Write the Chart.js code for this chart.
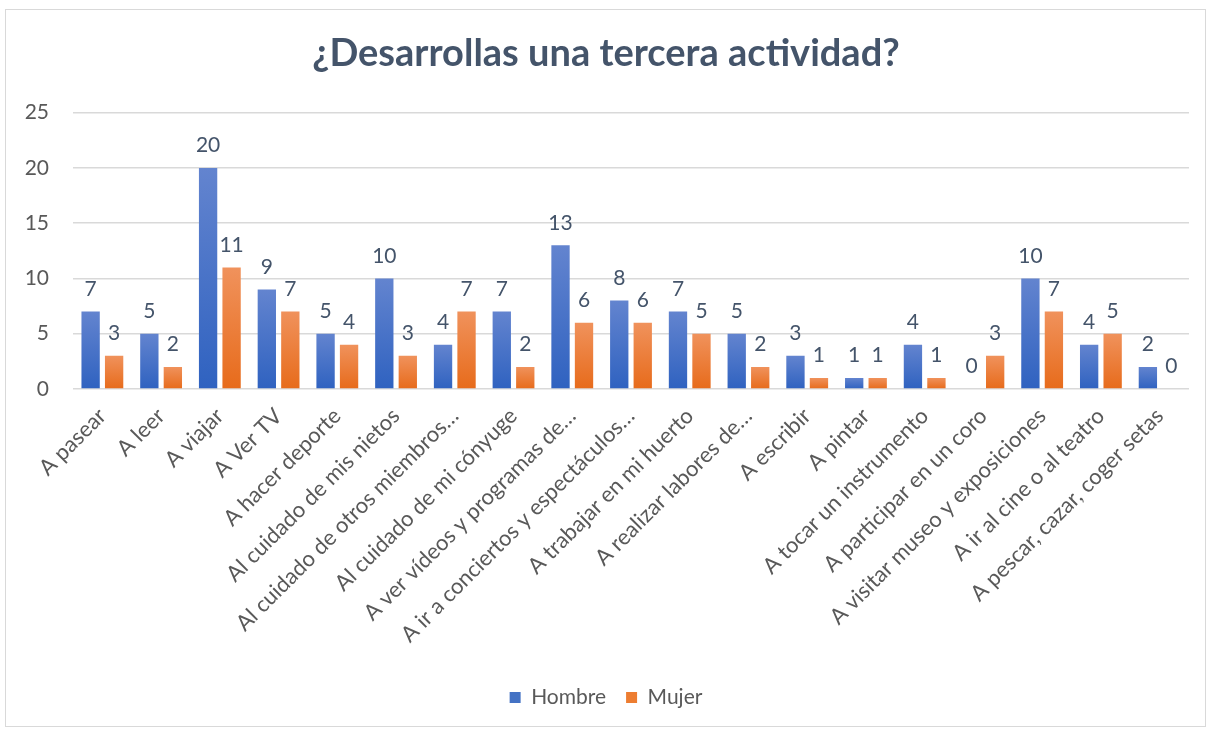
<!DOCTYPE html>
<html>
<head>
<meta charset="utf-8">
<script src="https://cdn.jsdelivr.net/npm/chart.js@4.4.0/dist/chart.umd.min.js"></script>
<style>
  html, body { margin: 0; padding: 0; background: #fff; }
  #wrap {
    position: absolute; left: 5px; top: 9px;
    width: 1201px; height: 718px;
    border: 1px solid #d9d9d9; box-sizing: border-box;
  }
  canvas { position: absolute; left: 0; top: 0; }
</style>
</head>
<body>
<div id="wrap"><canvas id="chart" width="1199" height="716"></canvas></div>
<script>
// Data
const categories = [
    'A pasear', 'A leer', 'A viajar', 'A Ver TV', 'A hacer deporte',
    'Al cuidado de mis nietos', 'Al cuidado de otros miembros…', 'Al cuidado de mi cónyuge',
    'A ver vídeos y programas de…', 'A ir a conciertos y espectáculos…', 'A trabajar en mi huerto',
    'A realizar labores de…', 'A escribir', 'A pintar', 'A tocar un instrumento',
    'A participar en un coro', 'A visitar museo y exposiciones', 'A ir al cine o al teatro',
    'A pescar, cazar, coger setas'
];
const hombre = [7, 5, 20, 9, 5, 10, 4, 7, 13, 8, 7, 5, 3, 1, 4, 0, 10, 4, 2];
const mujer  = [3, 2, 11, 7, 4, 3, 7, 2, 6, 6, 5, 2, 1, 1, 1, 3, 7, 5, 0];
const yTicks = [0, 5, 10, 15, 20, 25];

const FONT = "Lato, 'Open Sans', sans-serif";
const TEXT = '#595959';
const DARK = '#44546a';

// vertical gradient per bar, lighter at the top like the Excel fill
const barGradient = (top, bottom) => (ctx) => {
    const chart = ctx.chart;
    if (ctx.type !== 'data' || !chart.chartArea) return bottom;
    const y = chart.scales.y;
    const yTop = y.getPixelForValue(ctx.parsed ? ctx.parsed.y : 0);
    const yBase = y.getPixelForValue(0);
    if (yBase - yTop < 1) return bottom;
    const g = chart.ctx.createLinearGradient(0, yTop, 0, yBase);
    g.addColorStop(0, top);
    g.addColorStop(1, bottom);
    return g;
};

// value labels above each bar
const valueLabels = {
    id: 'valueLabels',
    afterDatasetsDraw(chart) {
        const ctx = chart.ctx;
        ctx.save();
        ctx.font = '21px ' + FONT;
        ctx.fillStyle = DARK;
        ctx.textAlign = 'center';
        ctx.textBaseline = 'bottom';
        chart.data.datasets.forEach((ds, i) => {
            chart.getDatasetMeta(i).data.forEach((bar, j) => {
                ctx.fillText(String(ds.data[j]), bar.x, bar.y - 12);
            });
        });
        ctx.restore();
    }
};

new Chart(document.getElementById('chart'), {
    type: 'bar',
    data: {
        labels: categories,
        datasets: [
            {
                label: 'Hombre',
                data: hombre,
                backgroundColor: barGradient('#6384cf', '#2f62c0'),
                legendColor: '#4472c4'
            },
            {
                label: 'Mujer',
                data: mujer,
                backgroundColor: barGradient('#f0925c', '#e76b1b'),
                legendColor: '#ed7d31'
            }
        ]
    },
    options: {
        responsive: false,
        animation: false,
        categoryPercentage: 0.8,
        barPercentage: 0.78,
        layout: { padding: { left: 17, right: 16, top: 10, bottom: 8 } },
        plugins: {
            title: {
                display: true,
                text: '¿Desarrollas una tercera actividad?',
                color: DARK,
                font: { family: FONT, size: 38, weight: 'bold' },
                padding: { top: 11, bottom: 36 }
            },
            legend: {
                position: 'bottom',
                labels: {
                    color: TEXT,
                    font: { family: FONT, size: 21 },
                    boxWidth: 11,
                    boxHeight: 11,
                    padding: 20,
                    generateLabels(chart) {
                        return chart.data.datasets.map((ds, i) => ({
                            text: ds.label,
                            fillStyle: ds.legendColor,
                            strokeStyle: ds.legendColor,
                            lineWidth: 0,
                            fontColor: TEXT,
                            datasetIndex: i
                        }));
                    }
                }
            },
            tooltip: { enabled: false }
        },
        scales: {
            x: {
                grid: { display: false },
                border: { display: false },
                ticks: {
                    color: TEXT,
                    font: { family: FONT, size: 22 },
                    minRotation: 45,
                    maxRotation: 45,
                    autoSkip: false,
                    padding: 6
                },
                afterFit(axis) {
                    axis.paddingLeft = 0;
                    axis.paddingRight = 0;
                    axis.height = 278;
                }
            },
            y: {
                min: 0,
                max: 25,
                afterBuildTicks(axis) { axis.ticks = yTicks.map(v => ({ value: v })); },
                grid: { color: '#d9d9d9', lineWidth: 1.5, drawTicks: false },
                border: { display: false },
                ticks: {
                    color: TEXT,
                    font: { family: FONT, size: 21 },
                    padding: 24
                },
                afterFit(axis) { axis.width = 50; }
            }
        }
    },
    plugins: [valueLabels]
});
</script>
</body>
</html>
